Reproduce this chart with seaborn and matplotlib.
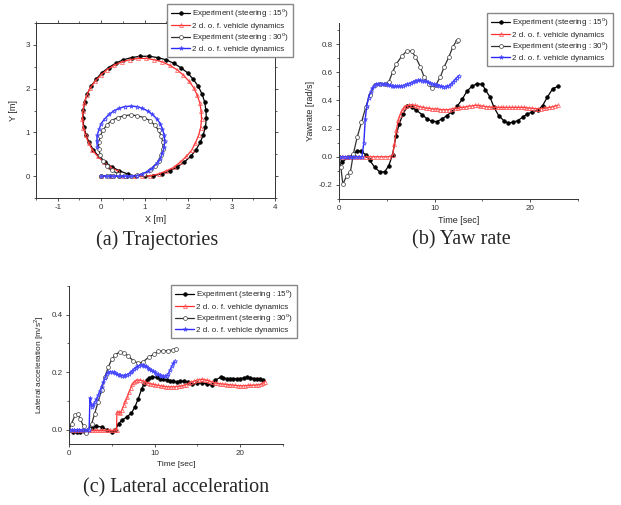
import numpy as np
import seaborn as sns
import matplotlib.pyplot as plt
from matplotlib.ticker import MultipleLocator

# ---- (a) trajectories [m] ----
traj15_x = [0.0, 0.2, 0.4, 0.6, 0.8, 1.00, 1.20, 1.39, 1.58, 1.75, 1.91, 2.06, 2.18, 2.28, 2.35,
            2.40, 2.42, 2.41, 2.38, 2.32, 2.23, 2.12, 1.99, 1.83, 1.67, 1.49, 1.30, 1.10,
            0.90, 0.70, 0.51, 0.33, 0.17, 0.01, -0.12, -0.23, -0.32, -0.38, -0.41, -0.42,
            -0.40, -0.35, -0.28, -0.18, -0.06, 0.09, 0.25, 0.42, 0.61]
traj15_y = [0.0, 0.0, 0.0, 0.0, 0.0, 0.00, 0.01, 0.05, 0.12, 0.21, 0.32, 0.45, 0.60, 0.77, 0.95,
            1.13, 1.32, 1.51, 1.70, 1.88, 2.06, 2.21, 2.36, 2.48, 2.58, 2.66, 2.71, 2.74,
            2.74, 2.71, 2.66, 2.58, 2.48, 2.36, 2.21, 2.06, 1.88, 1.70, 1.51, 1.32,
            1.13, 0.95, 0.77, 0.60, 0.45, 0.32, 0.21, 0.12, 0.05]
sim15_x = [0.0, 0.25, 0.5, 0.75, 0.94, 1.13, 1.32, 1.50, 1.67, 1.82, 1.96, 2.08, 2.17, 2.24,
           2.29, 2.31, 2.30, 2.27, 2.21, 2.13, 2.02, 1.89, 1.75, 1.58, 1.41, 1.22, 1.04,
           0.84, 0.66, 0.47, 0.30, 0.13, -0.01, -0.14, -0.25, -0.33, -0.39, -0.42, -0.43,
           -0.41, -0.36, -0.29, -0.20, -0.08, 0.06, 0.21, 0.38]
sim15_y = [0.0, 0.0, 0.0, 0.0, 0.00, 0.01, 0.05, 0.12, 0.20, 0.32, 0.45, 0.59, 0.76, 0.93,
           1.11, 1.30, 1.49, 1.67, 1.85, 2.02, 2.17, 2.31, 2.43, 2.53, 2.61, 2.66, 2.69,
           2.69, 2.66, 2.61, 2.53, 2.43, 2.31, 2.17, 2.02, 1.85, 1.67, 1.49, 1.30,
           1.11, 0.93, 0.76, 0.59, 0.45, 0.32, 0.20, 0.12]
traj30_x = [0.0, 0.14, 0.28, 0.42, 0.55, 0.68, 0.83, 0.98, 1.12, 1.23, 1.32, 1.38, 1.42, 1.42,
            1.38, 1.32, 1.23, 1.12, 0.98, 0.83, 0.68, 0.53, 0.38, 0.24, 0.13, 0.04, -0.02,
            -0.06, -0.06, -0.02, 0.04, 0.13, 0.24, 0.38]
traj30_y = [0.0, 0.01, 0.0, 0.01, 0.0, 0.00, 0.02, 0.06, 0.13, 0.23, 0.35, 0.48, 0.63, 0.77,
            0.92, 1.05, 1.17, 1.27, 1.34, 1.38, 1.40, 1.38, 1.34, 1.27, 1.17, 1.05, 0.92,
            0.77, 0.63, 0.48, 0.35, 0.23, 0.13, 0.06]
sim30_x = [0.0, 0.1, 0.2, 0.3, 0.4, 0.5, 0.6, 0.68, 0.82, 0.95, 1.07, 1.18, 1.28, 1.36, 1.41,
           1.45, 1.46, 1.45, 1.41, 1.36, 1.28, 1.18, 1.07, 0.95, 0.82, 0.68, 0.54, 0.41,
           0.29, 0.18, 0.08, 0.00, -0.05, -0.09, -0.10, -0.09]
sim30_y = [0.0, 0.0, 0.0, 0.0, 0.0, 0.0, 0.0, 0.00, 0.01, 0.05, 0.11, 0.19, 0.29, 0.40, 0.53,
           0.66, 0.80, 0.94, 1.07, 1.20, 1.31, 1.41, 1.49, 1.55, 1.59, 1.60, 1.59, 1.55,
           1.49, 1.41, 1.31, 1.20, 1.07, 0.94, 0.80, 0.66]

# ---- (b) yaw rate [rad/s] ----
yaw15_t = [0.0, 0.35, 0.95, 1.47, 1.9, 2.35, 2.8, 3.2, 3.75, 4.3, 4.8, 5.2, 5.6, 5.96, 6.3,
           6.7, 7.15, 7.6, 8.1, 8.67, 9.2, 9.7, 10.25, 10.8, 11.3, 11.8, 12.35, 12.9, 13.4,
           13.9, 14.45, 15.0, 15.3, 15.8, 16.2, 16.7, 17.3, 17.7, 18.2, 18.7, 19.2, 19.7,
           20.2, 20.8, 21.3, 21.8, 22.35, 22.9]
yaw15 = [0.0, -0.036, -0.005, 0.014, 0.043, 0.038, 0.014, -0.024, -0.076, -0.11, -0.105,
         -0.064, 0.014, 0.15, 0.233, 0.305, 0.357, 0.352, 0.33, 0.30, 0.27, 0.252, 0.25,
         0.27, 0.293, 0.32, 0.357, 0.41, 0.467, 0.50, 0.52, 0.514, 0.476, 0.424, 0.352,
         0.293, 0.252, 0.24, 0.245, 0.257, 0.28, 0.305, 0.317, 0.33, 0.364, 0.424, 0.483, 0.5]
yaw_sim15_t = [0.0, 0.4, 0.8, 1.2, 1.6, 2.0, 2.4, 2.8, 3.2, 3.6, 4.0, 4.4, 4.8, 5.2, 5.6,
               5.8, 6.0, 6.2, 6.4, 6.6, 6.8, 7.0, 7.3, 7.6, 7.9, 8.2, 8.5, 8.8, 9.1, 9.4,
               9.7, 10.0, 10.3, 10.6, 10.9, 11.2, 11.5, 11.8, 12.1, 12.4, 12.7, 13.0, 13.3,
               13.6, 13.9, 14.2, 14.5, 14.8, 15.1, 15.4, 15.7, 16.0, 16.3, 16.6, 16.9, 17.2,
               17.5, 17.8, 18.1, 18.4, 18.7, 19.0, 19.3, 19.6, 19.9, 20.2, 20.5, 20.8, 21.1,
               21.4, 21.7, 22.0, 22.3, 22.6, 22.9]
yaw_sim15 = [0.0, 0.0, 0.0, 0.0, 0.0, 0.0, 0.0, 0.0, 0.0, 0.0, 0.0, 0.0, 0.0, 0.0, 0.01,
             0.09, 0.19, 0.26, 0.30, 0.33, 0.35, 0.36, 0.365, 0.37, 0.365, 0.36, 0.355,
             0.35, 0.345, 0.345, 0.34, 0.34, 0.34, 0.335, 0.335, 0.335, 0.335, 0.34, 0.345,
             0.345, 0.35, 0.35, 0.355, 0.36, 0.36, 0.365, 0.365, 0.36, 0.36, 0.355, 0.355,
             0.35, 0.35, 0.35, 0.35, 0.35, 0.35, 0.35, 0.35, 0.35, 0.35, 0.35, 0.35, 0.348,
             0.346, 0.344, 0.342, 0.342, 0.342, 0.344, 0.346, 0.35, 0.355, 0.36, 0.365]
yaw30_t = [0.0, 0.2, 0.4, 0.8, 1.2, 1.5, 1.9, 2.35, 2.8, 3.2, 3.75, 4.3, 4.8, 5.2, 5.6, 6.0,
           6.56, 7.1, 7.6, 8.0, 8.5, 8.9, 9.4, 9.7, 10.1, 10.6, 11.0, 11.5, 11.9, 12.3, 12.4]
yaw30 = [0.0, -0.076, -0.195, -0.136, -0.105, 0.02, 0.138, 0.245, 0.352, 0.44, 0.507, 0.52,
         0.514, 0.53, 0.6, 0.66, 0.714, 0.752, 0.75, 0.71, 0.64, 0.567, 0.514, 0.49, 0.507,
         0.567, 0.638, 0.71, 0.78, 0.824, 0.83]
yaw_sim30_t = [0.0, 0.3, 0.6, 0.9, 1.2, 1.5, 1.8, 2.1, 2.4, 2.6, 2.75, 2.9, 3.1, 3.3, 3.5,
               3.7, 3.9, 4.1, 4.3, 4.5, 4.7, 4.9, 5.1, 5.3, 5.5, 5.7, 5.9, 6.1, 6.3, 6.5,
               6.7, 6.9, 7.1, 7.3, 7.5, 7.7, 7.9, 8.1, 8.3, 8.5, 8.7, 8.9, 9.1, 9.3, 9.5,
               9.7, 9.9, 10.1, 10.3, 10.5, 10.7, 10.9, 11.1, 11.3, 11.5, 11.7, 11.9, 12.1,
               12.3, 12.5]
yaw_sim30 = [0.0, 0.0, 0.0, 0.0, 0.0, 0.0, 0.0, 0.0, 0.0, 0.1, 0.27, 0.36, 0.42, 0.46, 0.49,
             0.505, 0.515, 0.52, 0.52, 0.52, 0.517, 0.514, 0.51, 0.507, 0.503, 0.5, 0.5, 0.5,
             0.5, 0.502, 0.505, 0.51, 0.514, 0.52, 0.525, 0.53, 0.535, 0.54, 0.543, 0.543,
             0.54, 0.538, 0.535, 0.53, 0.525, 0.52, 0.515, 0.51, 0.507, 0.504, 0.5, 0.498,
             0.497, 0.5, 0.505, 0.515, 0.53, 0.545, 0.56, 0.575]

# ---- (c) lateral acceleration [m/s^2] ----
lat15_t = [0.0, 0.5, 0.9, 1.3, 1.7, 2.1, 2.65, 3.2, 3.8, 4.4, 5.0, 5.4, 5.8, 6.2, 6.75, 7.3,
           7.7, 8.1, 8.5, 8.8, 9.1, 9.4, 9.7, 10.25, 10.6, 11.0, 11.4, 11.8, 12.2, 12.6, 13.0,
           13.4, 13.95, 14.35, 14.9, 15.5, 16.1, 16.7, 17.1, 17.7, 18.0, 18.4, 18.8, 19.2,
           19.6, 20.0, 20.4, 20.8, 21.2, 21.6, 22.0, 22.3, 22.7]
lat15 = [0.0, -0.008, -0.008, -0.008, -0.006, -0.005, 0.007, 0.012, 0.009, 0.0, -0.007,
         -0.002, 0.021, 0.033, 0.044, 0.058, 0.079, 0.108, 0.143, 0.16, 0.173, 0.18, 0.184,
         0.182, 0.178, 0.175, 0.172, 0.169, 0.168, 0.167, 0.168, 0.169, 0.167, 0.159, 0.161,
         0.163, 0.159, 0.155, 0.173, 0.182, 0.18, 0.178, 0.178, 0.178, 0.177, 0.178, 0.18,
         0.182, 0.18, 0.178, 0.176, 0.178, 0.173]
lat_sim15_t = [0.0, 0.3, 0.6, 0.9, 1.2, 1.5, 1.8, 2.1, 2.4, 2.7, 3.0, 3.3, 3.6, 3.9, 4.2,
               4.5, 4.8, 5.1, 5.4, 5.55, 5.6, 5.8, 6.0, 6.2, 6.4, 6.6, 6.8, 7.0, 7.2, 7.4,
               7.6, 7.8, 8.0, 8.3, 8.6, 8.9, 9.2, 9.5, 9.8, 10.1, 10.4, 10.7, 11.0, 11.3,
               11.6, 11.9, 12.2, 12.5, 12.8, 13.1, 13.4, 13.7, 14.0, 14.3, 14.6, 14.9, 15.2,
               15.5, 15.8, 16.1, 16.4, 16.7, 17.0, 17.3, 17.6, 17.9, 18.2, 18.5, 18.8, 19.1,
               19.4, 19.7, 20.0, 20.3, 20.6, 20.9, 21.2, 21.5, 21.8, 22.1, 22.4, 22.7, 22.9]
lat_sim15 = [0.0, 0.0, 0.0, 0.0, -0.001, -0.001, -0.002, -0.002, -0.003, -0.003, -0.003,
             -0.003, -0.003, -0.003, -0.003, -0.003, -0.003, -0.003, -0.002, 0.0, 0.06, 0.062,
             0.058, 0.07, 0.085, 0.1, 0.113, 0.13, 0.145, 0.158, 0.166, 0.171, 0.173, 0.172,
             0.17, 0.166, 0.162, 0.16, 0.158, 0.156, 0.154, 0.152, 0.151, 0.15, 0.149, 0.149,
             0.149, 0.15, 0.151, 0.152, 0.154, 0.157, 0.161, 0.165, 0.169, 0.172, 0.174,
             0.175, 0.174, 0.172, 0.169, 0.166, 0.163, 0.161, 0.16, 0.159, 0.158, 0.157,
             0.156, 0.155, 0.154, 0.153, 0.153, 0.153, 0.153, 0.154, 0.154, 0.155, 0.155,
             0.156, 0.158, 0.163, 0.167]
lat30_t = [0.0, 0.3, 0.7, 1.0, 1.3, 1.7, 2.0, 2.3, 2.65, 3.0, 3.4, 3.8, 4.2, 4.6, 5.0, 5.4,
           5.9, 6.4, 6.9, 7.5, 8.1, 8.7, 9.3, 9.9, 10.45, 11.0, 11.6, 12.2, 12.45]
lat30 = [0.0, 0.021, 0.05, 0.056, 0.038, 0.012, -0.012, 0.003, 0.021, 0.056, 0.097, 0.138,
         0.184, 0.219, 0.245, 0.26, 0.27, 0.268, 0.257, 0.24, 0.231, 0.237, 0.252, 0.262,
         0.272, 0.275, 0.275, 0.278, 0.28]
lat_sim30_t = [0.0, 0.3, 0.6, 0.9, 1.2, 1.5, 1.8, 2.1, 2.35, 2.45, 2.55, 2.7, 2.85, 3.0,
               3.2, 3.4, 3.6, 3.8, 4.0, 4.2, 4.4, 4.6, 4.8, 5.0, 5.2, 5.4, 5.6, 5.8, 6.0,
               6.2, 6.4, 6.6, 6.8, 7.0, 7.2, 7.4, 7.6, 7.8, 8.0, 8.2, 8.4, 8.6, 8.8, 9.0,
               9.2, 9.4, 9.6, 9.8, 10.0, 10.2, 10.4, 10.6, 10.8, 11.0, 11.2, 11.4, 11.6,
               11.8, 12.0, 12.2, 12.35]
lat_sim30 = [0.0, 0.0, 0.0, 0.0, 0.0, 0.0, 0.0, 0.0, 0.0, 0.11, 0.09, 0.08, 0.085, 0.095,
             0.105, 0.12, 0.135, 0.15, 0.165, 0.18, 0.195, 0.2, 0.202, 0.201, 0.199, 0.197,
             0.194, 0.191, 0.189, 0.188, 0.188, 0.189, 0.191, 0.195, 0.2, 0.205, 0.211,
             0.216, 0.22, 0.223, 0.225, 0.225, 0.223, 0.22, 0.216, 0.212, 0.208, 0.203,
             0.199, 0.195, 0.192, 0.189, 0.187, 0.186, 0.186, 0.188, 0.195, 0.208, 0.22,
             0.232, 0.238]

labels = ["Experiment (steering : 15$^\\mathregular{o}$)", "2 d. o. f. vehicle dynamics",
          "Experiment (steering : 30$^\\mathregular{o}$)", "2 d. o. f. vehicle dynamics"]

sns.set_style("ticks")
plt.rcParams['font.family'] = ['Liberation Sans', 'DejaVu Sans']
plt.rcParams['mathtext.fontset'] = 'custom'
plt.rcParams['mathtext.rm'] = 'Liberation Sans'
plt.rcParams['axes.unicode_minus'] = False

styles = [
    dict(color="black", marker="o", markersize=2.6, markerfacecolor="black",
         markeredgecolor="black", markeredgewidth=0.5, linewidth=0.9),
    dict(color="#ff3030", marker="^", markersize=2.8, markerfacecolor="none",
         markeredgecolor="#ff5050", markeredgewidth=0.5, linewidth=0.9),
    dict(color="#303030", marker="o", markersize=2.8, markerfacecolor="white",
         markeredgecolor="#404040", markeredgewidth=0.5, linewidth=0.9),
    dict(color="#2a2aff", marker="*", markersize=3.2, markerfacecolor="none",
         markeredgecolor="#4a4aff", markeredgewidth=0.5, linewidth=1.0),
]

fig = plt.figure(figsize=(6.21, 5.05), dpi=100)


def draw(ax, series):
    for (x, y), st, lab in zip(series, styles, labels):
        sns.lineplot(x=x, y=y, ax=ax, sort=False, estimator=None, label=lab, **st)


def legend(ax, x1, y0):
    ax.legend(loc="upper right", bbox_to_anchor=(x1 / 621, 1 - y0 / 505),
              bbox_transform=fig.transFigure, fontsize=5.8, frameon=True, fancybox=False,
              edgecolor="#888888", framealpha=1, handlelength=2.4, labelspacing=0.2,
              borderpad=0.45, handletextpad=0.25, borderaxespad=0)


def style_axes(ax, box=False):
    ax.tick_params(labelsize=5.8, length=2.5, width=0.6, pad=2, colors="#333333")
    ax.tick_params(which="minor", length=1.5, width=0.5)
    for s in ax.spines.values():
        s.set_linewidth(0.7)
        s.set_color("#333333")
    if box:
        ax.tick_params(which="both", top=True, right=True)
    else:
        sns.despine(ax=ax)


# (a)
ax1 = fig.add_axes([36 / 621, 1 - 198 / 505, 239 / 621, 175 / 505])
draw(ax1, [(traj15_x, traj15_y), (sim15_x, sim15_y), (traj30_x, traj30_y), (sim30_x, sim30_y)])
ax1.set_xlim(-1.5, 4)
ax1.set_ylim(-0.5, 3.5)
ax1.xaxis.set_major_locator(MultipleLocator(1))
ax1.xaxis.set_minor_locator(MultipleLocator(0.5))
ax1.yaxis.set_major_locator(MultipleLocator(1))
ax1.yaxis.set_minor_locator(MultipleLocator(0.5))
ax1.set_xlabel("X [m]", fontsize=6.5, labelpad=3)
ax1.set_ylabel("Y [m]", fontsize=6.5, labelpad=5)
style_axes(ax1, box=True)
legend(ax1, 293, 4)

# (b)
ax2 = fig.add_axes([339 / 621, 1 - 199 / 505, 239 / 621, 176 / 505])
draw(ax2, [(yaw15_t, yaw15), (yaw_sim15_t, yaw_sim15), (yaw30_t, yaw30), (yaw_sim30_t, yaw_sim30)])
ax2.set_xlim(0, 25)
ax2.set_ylim(-0.3, 0.95)
ax2.xaxis.set_major_locator(MultipleLocator(10))
ax2.xaxis.set_minor_locator(MultipleLocator(5))
ax2.yaxis.set_major_locator(MultipleLocator(0.2))
ax2.yaxis.set_minor_locator(MultipleLocator(0.1))
ax2.yaxis.set_major_formatter(lambda v, p: f"{v:.1f}")
ax2.set_xlabel("Time [sec]", fontsize=6.5, labelpad=3)
ax2.set_ylabel("Yawrate [rad/s]", fontsize=6.5, labelpad=3)
style_axes(ax2)
legend(ax2, 613, 13)

# (c)
ax3 = fig.add_axes([69 / 621, 1 - 444 / 505, 214 / 621, 158 / 505])
draw(ax3, [(lat15_t, lat15), (lat_sim15_t, lat_sim15), (lat30_t, lat30), (lat_sim30_t, lat_sim30)])
ax3.set_xlim(0, 25)
ax3.set_ylim(-0.05, 0.5)
ax3.xaxis.set_major_locator(MultipleLocator(10))
ax3.xaxis.set_minor_locator(MultipleLocator(5))
ax3.yaxis.set_major_locator(MultipleLocator(0.2))
ax3.yaxis.set_minor_locator(MultipleLocator(0.1))
ax3.yaxis.set_major_formatter(lambda v, p: f"{v:.1f}")
ax3.set_xlabel("Time [sec]", fontsize=6, labelpad=3)
ax3.set_ylabel("Lateral acceleration [m/s$^\\mathregular{2}$]", fontsize=6, labelpad=4)
style_axes(ax3)
legend(ax3, 297, 285)

# captions
cap = dict(family=["Liberation Serif", "DejaVu Serif"], fontsize=14.5, ha="center", va="center")
fig.text(157 / 621, 1 - 240 / 505, "(a) Trajectories", **cap)
fig.text(461 / 621, 1 - 240 / 505, "(b) Yaw rate", **cap)
fig.text(176 / 621, 1 - 488 / 505, "(c) Lateral acceleration", **cap)

fig.savefig("out.png", dpi=100)
